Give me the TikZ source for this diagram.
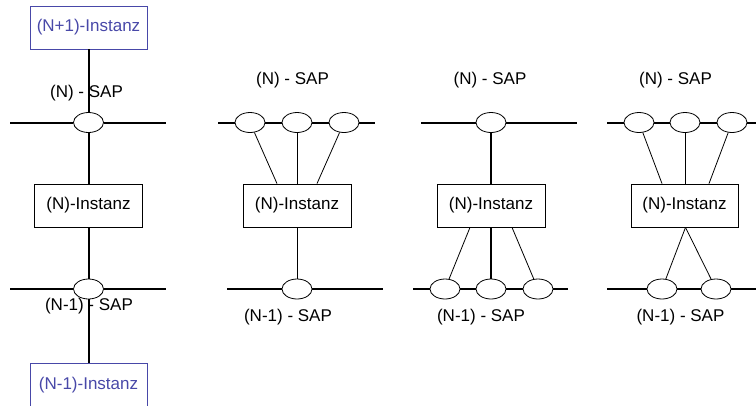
\documentclass[tikz,border=0pt]{standalone}
\usepackage{fontspec}
\setmainfont{Liberation Sans}
\usetikzlibrary{shapes.geometric}
\definecolor{instblue}{RGB}{72,72,168}
\tikzset{
  sap/.style={ellipse,draw,line width=0.8pt,fill=white,minimum width=30pt,minimum height=20pt,inner sep=0pt},
  inst/.style={draw,line width=0.8pt,minimum width=108pt,minimum height=43pt,inner sep=0pt,font=\fontsize{17}{20}\selectfont},
  blueinst/.style={inst,draw=instblue,text=instblue,minimum width=117pt},
  lbl/.style={inner sep=0pt,font=\fontsize{17}{20}\selectfont},
  thickl/.style={line width=2pt},
  thinl/.style={line width=0.8pt}
}
\begin{document}
\begin{tikzpicture}[x=1pt,y=-1pt]
\useasboundingbox (0,0) rectangle (756,405);
% ---------- Panel 1
\node[blueinst] (np1) at (88.5,27.5) {(N+1)-Instanz};
\node[lbl] (l1t) at (86.5,93) {(N) - SAP};
\node[lbl] (l1b) at (89,306) {(N-1) - SAP};
\node[sap] (a1) at (88.5,122.5) {};
\node[inst] (b1) at (88.5,205.5) {(N)-Instanz};
\node[sap] (c1) at (88.5,289) {};
\node[blueinst] (nm1) at (88.5,385) {(N-1)-Instanz};
\coordinate (a1L) at (10,122.5);
\coordinate (a1R) at (166,122.5);
\coordinate (c1L) at (10,289);
\coordinate (c1R) at (166,289);
\draw[thickl] (a1L) -- (a1.west);
\draw[thickl] (a1.east) -- (a1R);
\draw[thickl] (c1L) -- (c1.west);
\draw[thickl] (c1.east) -- (c1R);
\draw[thickl] (np1.south) -- (a1.north);
\draw[thickl] (a1.south) -- (b1.north);
\draw[thickl] (b1.south) -- (c1.north);
\draw[thickl] (c1.south) -- (nm1.north);
% ---------- Panel 2
\node[lbl] (l2t) at (292.5,80) {(N) - SAP};
\node[lbl] (l2b) at (288,317) {(N-1) - SAP};
\node[sap] (a2x) at (250,122.5) {};
\node[sap] (a2y) at (297,122.5) {};
\node[sap] (a2z) at (344,122.5) {};
\node[inst] (b2) at (297,205.5) {(N)-Instanz};
\node[sap] (c2) at (297,289) {};
\coordinate (a2L) at (218,122.5);
\coordinate (a2R) at (375,122.5);
\coordinate (c2L) at (227,289);
\coordinate (c2R) at (383,289);
\draw[thickl] (a2L) -- (a2x.west);
\draw[thickl] (a2x.east) -- (a2y.west);
\draw[thickl] (a2y.east) -- (a2z.west);
\draw[thickl] (a2z.east) -- (a2R);
\draw[thickl] (c2L) -- (c2.west);
\draw[thickl] (c2.east) -- (c2R);
\draw[thinl] (a2x) -- ([xshift=-20pt]b2.north);
\draw[thinl] (a2y.south) -- (b2.north);
\draw[thinl] (a2z) -- ([xshift=20pt]b2.north);
\draw[thinl] (b2.south) -- (c2.north);
% ---------- Panel 3
\node[lbl] (l3t) at (490,80) {(N) - SAP};
\node[lbl] (l3b) at (481,317) {(N-1) - SAP};
\node[sap] (a3) at (491,122.5) {};
\node[inst] (b3) at (491,205.5) {(N)-Instanz};
\node[sap] (c3x) at (445,289) {};
\node[sap] (c3y) at (491,289) {};
\node[sap] (c3z) at (538,289) {};
\coordinate (a3L) at (421,122.5);
\coordinate (a3R) at (577,122.5);
\coordinate (c3L) at (413,289);
\coordinate (c3R) at (568,289);
\draw[thickl] (a3L) -- (a3.west);
\draw[thickl] (a3.east) -- (a3R);
\draw[thickl] (c3L) -- (c3x.west);
\draw[thickl] (c3x.east) -- (c3y.west);
\draw[thickl] (c3y.east) -- (c3z.west);
\draw[thickl] (c3z.east) -- (c3R);
\draw[thickl] (a3.south) -- (b3.north);
\draw[thickl] (b3.south) -- (c3y.north);
\draw[thinl] ([xshift=-21pt]b3.south) -- (c3x);
\draw[thinl] ([xshift=21pt]b3.south) -- (c3z);
% ---------- Panel 4
\node[lbl] (l4t) at (675.5,80) {(N) - SAP};
\node[lbl] (l4b) at (680.5,317) {(N-1) - SAP};
\node[sap] (a4x) at (639,122.5) {};
\node[sap] (a4y) at (685,122.5) {};
\node[sap] (a4z) at (732,122.5) {};
\node[inst,minimum width=107pt] (b4) at (684.5,205.5) {(N)-Instanz};
\node[sap] (c4x) at (662,289) {};
\node[sap] (c4y) at (716,289) {};
\coordinate (a4L) at (607,122.5);
\coordinate (a4R) at (757,122.5);
\coordinate (c4L) at (607,289);
\coordinate (c4R) at (757,289);
\draw[thickl] (a4L) -- (a4x.west);
\draw[thickl] (a4x.east) -- (a4y.west);
\draw[thickl] (a4y.east) -- (a4z.west);
\draw[thickl] (a4z.east) -- (a4R);
\draw[thickl] (c4L) -- (c4x.west);
\draw[thickl] (c4x.east) -- (c4y.west);
\draw[thickl] (c4y.east) -- (c4R);
\draw[thinl] (a4x) -- ([xshift=-22.5pt]b4.north);
\draw[thinl] (a4y.south) -- ([xshift=0.5pt]b4.north);
\draw[thinl] (a4z) -- ([xshift=24.5pt]b4.north);
\draw[thinl] ([xshift=1pt]b4.south) -- (c4x);
\draw[thinl] ([xshift=1pt]b4.south) -- (c4y);
\end{tikzpicture}
\end{document}
